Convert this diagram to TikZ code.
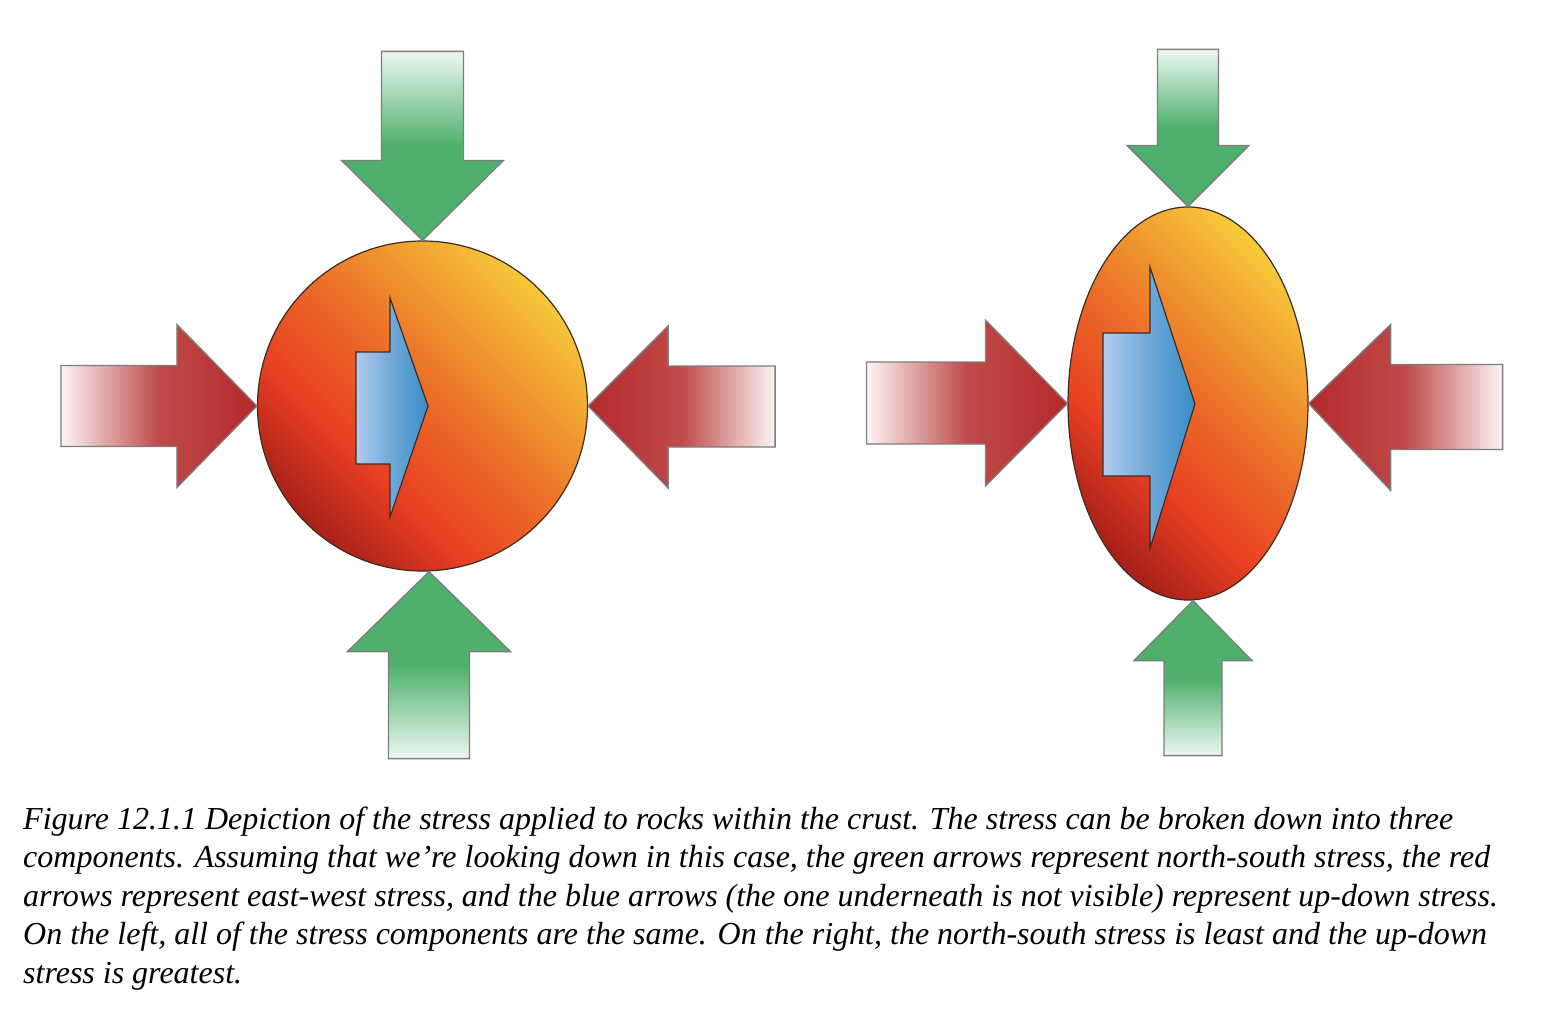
\documentclass[tikz,border=0pt]{standalone}
\usepackage{fontspec}
\setmainfont{Liberation Serif}
\usepackage{xcolor}
\usepackage{tikz}
\usetikzlibrary{positioning,calc,shapes.geometric}
\definecolor{rDark}{RGB}{168,32,24}
\definecolor{rRed}{RGB}{232,64,34}
\definecolor{rOrange}{RGB}{238,148,46}
\definecolor{rYellow}{RGB}{247,204,58}
\definecolor{gGreen}{RGB}{78,176,108}
\definecolor{gPale}{RGB}{236,248,240}
\definecolor{pRed}{RGB}{180,42,42}
\definecolor{pPale}{RGB}{253,244,244}
\definecolor{bLight}{RGB}{178,204,236}
\definecolor{bBlue}{RGB}{56,140,200}
\definecolor{aLine}{RGB}{125,125,125}
\definecolor{kLine}{RGB}{60,45,35}
\pgfdeclareverticalshading{rockshade}{100bp}{color(0bp)=(rDark); color(25bp)=(rDark);
  color(38bp)=(rRed); color(50bp)=(rRed!55!rOrange); color(62bp)=(rOrange);
  color(76bp)=(rYellow); color(100bp)=(rYellow)}
\tikzset{
  rock/.style={draw=kLine, line width=1.2pt, shade, shading=rockshade,
               shading angle=-45, inner sep=0pt},
  nspush/.style={draw=aLine, line width=1.3pt, line join=miter},
  ewpush/.style={draw=aLine, line width=1.3pt, line join=miter},
  udpush/.style={draw=kLine, line width=1.2pt, left color=bLight,
                 right color=bBlue, middle color=bBlue!55!bLight},
  capt/.style={font=\fontsize{32}{38.5}\selectfont\itshape, align=left,
               inner sep=0pt, anchor=base west},
}

\begin{document}
\begin{tikzpicture}[x=1pt, y=-1pt]
  \useasboundingbox[fill=white] (0,0) rectangle (1554,1030);

  % --- rocks ---
  \node[rock, circle, minimum size=330pt] (ball) at (422.5,406) {};
  \node[rock, ellipse, minimum width=240pt, minimum height=393pt] (egg) at (1188,403.5) {};

  % --- left rock: north-south push ---
  \draw[nspush, top color=gPale, bottom color=gGreen, middle color=gGreen]
    (ball.north) -- ++(-81,-80) -- ++(40,0) -- ++(0,-109) -- ++(82,0)
    -- ++(0,109) -- ++(40,0) -- cycle;
  \draw[nspush, bottom color=gPale, top color=gGreen, middle color=gGreen]
    ($(ball.south)+(6.5,0)$) -- ++(-81.5,80) -- ++(41,0) -- ++(0,107) -- ++(81,0)
    -- ++(0,-107) -- ++(41,0) -- cycle;

  % --- left rock: east-west push ---
  \draw[ewpush, left color=pPale, right color=pRed, middle color=pRed!85]
    (ball.west) -- ++(-80,-81.5) -- ++(0,41) -- ++(-116,0) -- ++(0,81)
    -- ++(116,0) -- ++(0,41) -- cycle;
  \draw[ewpush, right color=pPale, left color=pRed, middle color=pRed!85]
    (ball.east) -- ++(80,-80) -- ++(0,40) -- ++(107,0) -- ++(0,81)
    -- ++(-107,0) -- ++(0,41) -- cycle;

  % --- left rock: up-down push ---
  \draw[udpush] (356,352) -- (390,352) -- (390,298) -- (428,406)
    -- (390,517) -- (390,464) -- (356,464) -- cycle;

  % --- right rock: north-south push ---
  \draw[nspush, top color=gPale, bottom color=gGreen, middle color=gGreen]
    (egg.north) -- ++(-61,-61) -- ++(30.5,0) -- ++(0,-96) -- ++(61,0)
    -- ++(0,96) -- ++(30.5,0) -- cycle;
  \draw[nspush, bottom color=gPale, top color=gGreen, middle color=gGreen]
    ($(egg.south)+(5,0)$) -- ++(-59,60) -- ++(30,0) -- ++(0,95) -- ++(58,0)
    -- ++(0,-95) -- ++(30,0) -- cycle;

  % --- right rock: east-west push ---
  \draw[ewpush, left color=pPale, right color=pRed, middle color=pRed!85]
    (egg.west) -- ++(-82,-83.5) -- ++(0,42) -- ++(-119,0) -- ++(0,82)
    -- ++(119,0) -- ++(0,42) -- cycle;
  \draw[ewpush, right color=pPale, left color=pRed, middle color=pRed!85]
    (egg.east) -- ++(82,-79) -- ++(0,40) -- ++(112,0) -- ++(0,85)
    -- ++(-112,0) -- ++(0,41) -- cycle;

  % --- right rock: up-down push ---
  \draw[udpush] (1103,333) -- (1150,333) -- (1150,267) -- (1195,404)
    -- (1150,548) -- (1150,476) -- (1103,476) -- cycle;

  % --- caption (anchored on its last line) ---
  \node[capt] (caption) at (23,983) {Figure 12.1.1 Depiction of the stress applied to rocks within the crust. The stress can be broken down into three\\
    components. Assuming that we’re looking down in this case, the green arrows represent north-south stress, the red\\
    arrows represent east-west stress, and the blue arrows (the one underneath is not visible) represent up-down stress.\\
    On the left, all of the stress components are the same. On the right, the north-south stress is least and the up-down\\
    stress is greatest.};
\end{tikzpicture}
\end{document}
